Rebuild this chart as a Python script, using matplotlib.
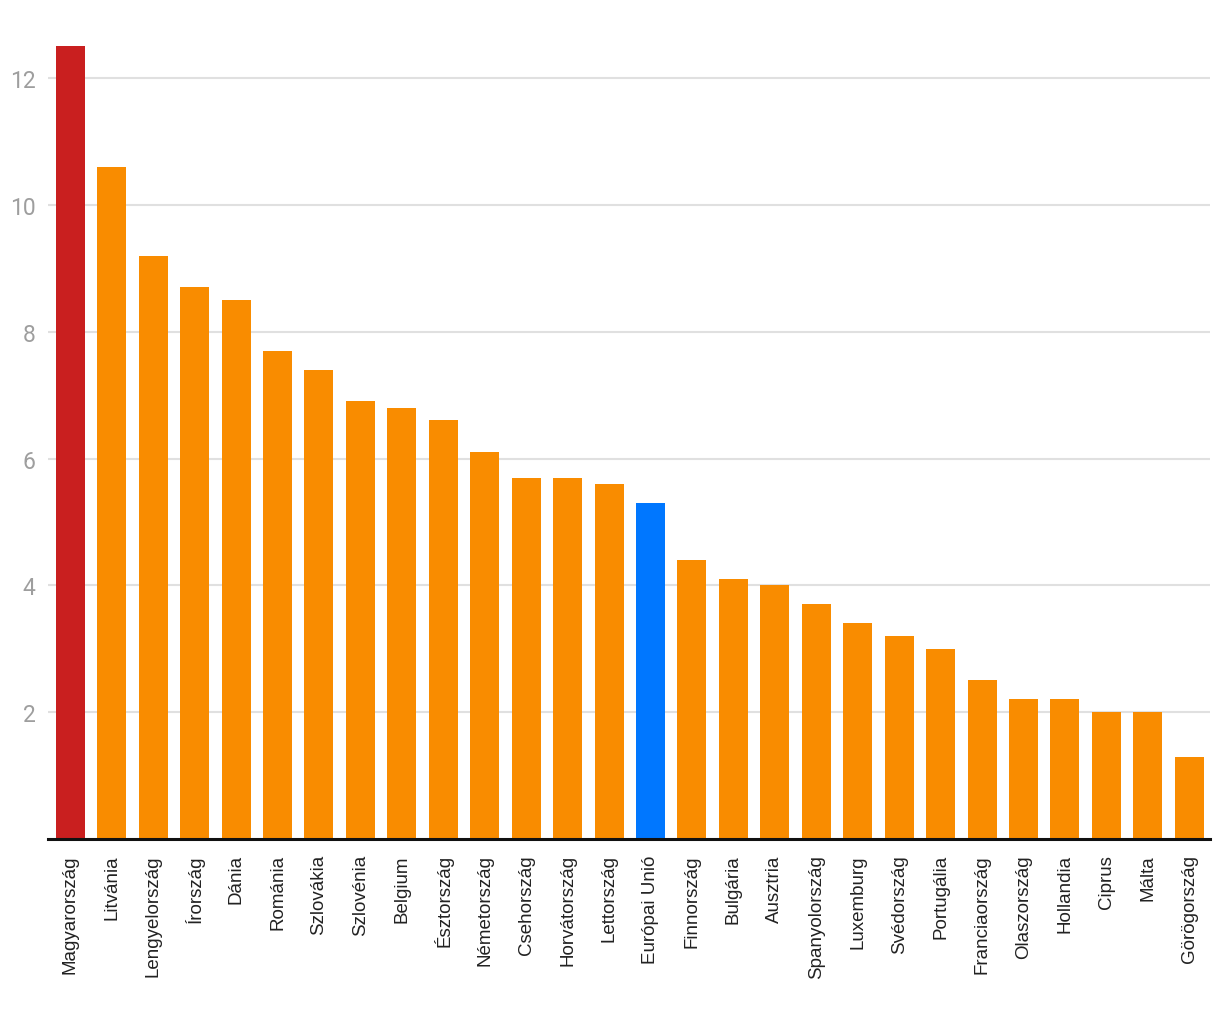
import matplotlib
matplotlib.use("Agg")
import matplotlib.pyplot as plt

countries = ["Magyarország", "Litvánia", "Lengyelország", "Írország", "Dánia",
             "Románia", "Szlovákia", "Szlovénia", "Belgium", "Észtország",
             "Németország", "Csehország", "Horvátország", "Lettország",
             "Európai Unió", "Finnország", "Bulgária", "Ausztria",
             "Spanyolország", "Luxemburg", "Svédország", "Portugália",
             "Franciaország", "Olaszország", "Hollandia", "Ciprus", "Málta",
             "Görögország"]
values = [12.5, 10.6, 9.2, 8.7, 8.5, 7.7, 7.4, 6.9, 6.8, 6.6, 6.1, 5.7, 5.7,
          5.6, 5.3, 4.4, 4.1, 4.0, 3.7, 3.4, 3.2, 3.0, 2.5, 2.2, 2.2, 2.0, 2.0,
          1.3]
yticks = [2, 4, 6, 8, 10, 12]

colors = []
for c in countries:
    if c == "Magyarország":
        colors.append("#c91f1f")
    elif c == "Európai Unió":
        colors.append("#0077ff")
    else:
        colors.append("#f98c00")

fig = plt.figure(figsize=(12.2, 10.2), dpi=100)
ax = fig.add_axes([0.0393, 0.1765, 0.9525, 0.8081])

x = list(range(len(countries)))
ax.bar(x, values, width=0.7, color=colors, zorder=2)

ax.set_xlim(-0.54, len(countries) - 0.5)
ax.set_ylim(0, 13)
ax.set_yticks(yticks)
ax.set_yticklabels([str(t) for t in yticks], family="Roboto", fontsize=16.5,
                   color="#9e9e9e")
ax.set_xticks(x)
ax.set_xticklabels(countries, rotation=90, family="Liberation Sans",
                   fontsize=13.5, color="#222222")
ax.tick_params(axis="y", length=0, pad=9)
ax.tick_params(axis="x", length=0, pad=11)

ax.grid(axis="y", color="#e0e0e0", linewidth=1.5, zorder=0)
for s in ["top", "right", "left"]:
    ax.spines[s].set_visible(False)
ax.spines["bottom"].set_color("#111111")
ax.spines["bottom"].set_linewidth(2.2)
ax.spines["bottom"].set_zorder(3)

plt.savefig("out.png")
